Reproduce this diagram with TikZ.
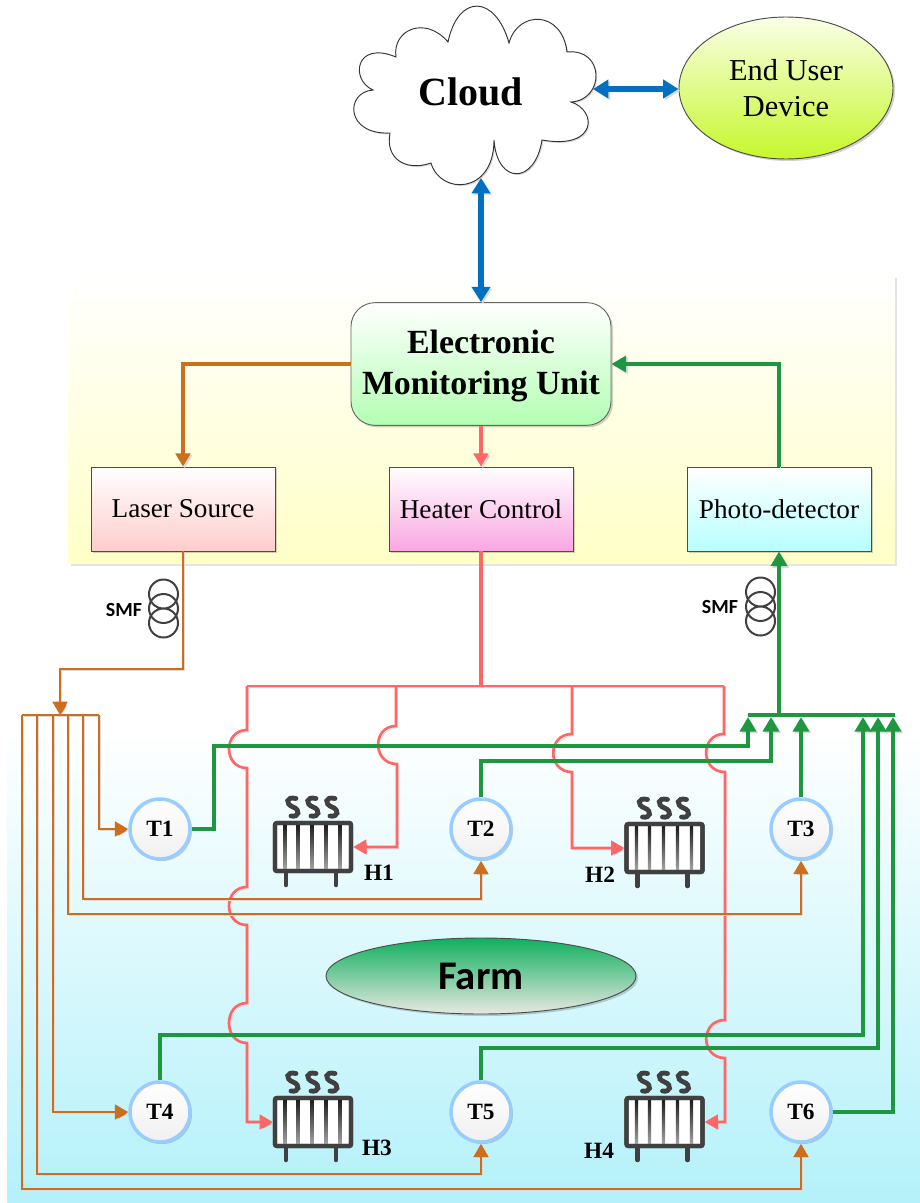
\documentclass[tikz,border=0pt]{standalone}
\usepackage{fontspec}
\setmainfont{Liberation Serif}
\newfontfamily\calibrifont{Carlito}
\usetikzlibrary{arrows.meta,shapes.geometric,shadows,calc}
\definecolor{orangeline}{HTML}{CC6E1E}
\definecolor{redline}{HTML}{FF6666}
\definecolor{greenline}{HTML}{1F9640}
\definecolor{blueline}{HTML}{0070C0}
\definecolor{darkgrey}{HTML}{404040}
\definecolor{ringblue}{HTML}{99CCFF}
\definecolor{farmbot}{HTML}{B4F1FA}
\definecolor{usertop}{HTML}{FAFFE6}
\definecolor{userbot}{HTML}{C6F72B}
\definecolor{farmtop}{HTML}{0FB05E}
\definecolor{farmlow}{HTML}{E8E8E2}
\definecolor{heatbot}{HTML}{F9A6E2}
\tikzset{
  lsh/.style={preaction={draw=black!14,transform canvas={shift={(1.3pt,-1.3pt)}}}},
  bsh/.style={drop shadow={shadow xshift=1.5pt,shadow yshift=-1.5pt,fill=black,opacity=.18}},
  orl/.style={line width=2pt,lsh,draw=orangeline},
  orth/.style={line width=3.2pt,lsh,draw=orangeline},
  redl/.style={line width=2pt,lsh,draw=redline},
  redth/.style={line width=2.8pt,lsh,draw=redline},
  grnl/.style={line width=3pt,lsh,draw=greenline},
  blul/.style={line width=3.8pt,lsh,draw=blueline},
  tipO/.style={-{Triangle[length=10pt,width=11pt,fill=orangeline]}},
  tipR/.style={-{Triangle[length=10pt,width=11pt,fill=redline]}},
  tipG/.style={-{Triangle[length=11pt,width=12pt,fill=greenline]}},
  tipB/.style={{Triangle[length=11.5pt,width=13.5pt]}-{Triangle[length=11.5pt,width=13.5pt]}},
  box/.style={draw=black!70,line width=.6pt,minimum width=138pt,minimum height=63pt,inner sep=0pt,font=\fontsize{20.4}{24}\selectfont,bsh},
  tnode/.style={circle,draw=ringblue,line width=2.6pt,minimum size=45pt,inner sep=0pt,top color=white,bottom color=black!6,font=\fontsize{17.5}{20}\selectfont\bfseries,bsh},
  hbox/.style={draw=darkgrey,line width=3.2pt,rounded corners=1.5pt,minimum width=57pt,minimum height=36pt,inner sep=0pt,fill=white,bsh},
  hlabel/.style={font=\fontsize{17.5}{20}\selectfont\bfseries,inner sep=0pt},
  smfl/.style={font=\calibrifont\fontsize{15}{17}\selectfont\bfseries,inner sep=0pt},
  coil/.style={draw=darkgrey,line width=1.5pt},
  steam/.style={draw=darkgrey,line width=3.6pt,line cap=round},
}
\newcommand{\heater}[3]{%
  \node[hbox] (#1) at (#2,#3) {};
  \begin{scope}[shift={(#2,#3)}]
    \foreach \bx in {-28,-15,-1,13,27}
      \shade[top color=black!90,bottom color=black!35] (\bx-1.7,-23) rectangle (\bx+1.7,23);
    \draw[darkgrey,line width=3.2pt,rounded corners=1.5pt] (-38,-24) rectangle (38,24);
    \draw[darkgrey,line width=3.4pt,line cap=round] (-27,26) -- (-27,38) (23,26) -- (23,38);
    \foreach \sx in {-20,0,19}
      \draw[steam] (\sx+3,-48.5) .. controls (\sx-7,-51) and (\sx-8,-43) .. (\sx,-40) .. controls (\sx+8,-37) and (\sx+6,-29.5) .. (\sx-2,-31);
  \end{scope}}
\newcommand{\coilset}[2]{%
  \draw[coil] (#1,#2) circle[radius=14.5] (#1,#2+14.5) circle[radius=14.5] (#1,#2+29) circle[radius=14.5];
}
\begin{document}
\begin{tikzpicture}[x=.75pt,y=-.75pt]
\useasboundingbox (0,0) rectangle (920,1203);
% backgrounds
\fill[black!10] (71,278) rectangle (897,566);
\node[minimum width=620pt,minimum height=216pt,inner sep=0pt,anchor=north west,top color=white,bottom color=yellow!22] (panel) at (68,275) {};
\node[minimum width=685pt,minimum height=355pt,inner sep=0pt,anchor=south west,top color=white,bottom color=farmbot] (farmbg) at (7,1203) {};
% coordinates
\coordinate (rbus) at (481,686);
\coordinate (r1) at (247,686);
\coordinate (r2) at (396,686);
\coordinate (r3) at (572,686);
\coordinate (r4) at (724,686);
\coordinate (gbusW) at (748,715);
\coordinate (gbusE) at (895,715);
\coordinate (gbusT) at (779,715);
\coordinate (g1) at (748,717);
\coordinate (g2) at (771,717);
\coordinate (g3) at (801,717);
\coordinate (g4) at (863,717);
\coordinate (g5) at (878,717);
\coordinate (g6) at (893,717);
\coordinate (obusW) at (22,715);
\coordinate (obusE) at (99,715);
\coordinate (oin) at (60,715);
\coordinate (o1) at (99,715);
\coordinate (o2) at (83,715);
\coordinate (o3) at (68,715);
\coordinate (o4) at (53,715);
\coordinate (o5) at (37,715);
\coordinate (o6) at (22,715);
% main nodes
\node[draw=black!60,line width=.7pt,rounded corners=18pt,minimum width=195pt,minimum height=92pt,inner sep=0pt,align=center,top color=white,bottom color=green!30,font=\fontsize{25.4}{31}\selectfont\bfseries,bsh] (emu) at (481,364) {\rule{0pt}{21pt}Electronic\\Monitoring Unit};
\node[box,top color=white,bottom color=red!20] (laser) at (183,509) {Laser Source};
\node[box,top color=white,bottom color=heatbot] (hc) at (481,509) {Heater Control};
\node[box,top color=white,bottom color=cyan!28] (pd) at (779,509) {Photo-detector};
% cloud
\draw[black!80,line width=.7pt,fill=white,drop shadow={shadow xshift=1pt,shadow yshift=-1pt,fill=black,opacity=.15}]
 (396,57) .. controls (392,30) and (425,15) .. (448,42)
 .. controls (458,-6) and (495,-6) .. (509,43)
 .. controls (518,10) and (562,10) .. (567,52)
 .. controls (605,48) and (605,100) .. (571,102)
 .. controls (597,110) and (598,150) .. (542,140)
 .. controls (535,185) and (497,185) .. (494,140)
 .. controls (494,195) and (440,195) .. (431,163)
 .. controls (405,172) and (385,158) .. (390,133)
 .. controls (345,135) and (345,92) .. (373,90)
 .. controls (350,80) and (355,40) .. (396,57) -- cycle;
\node[inner sep=0pt,font=\fontsize{30}{36}\selectfont\bfseries] (cloud) at (471,92) {Cloud};
\coordinate (cloudE) at (593,89);
\coordinate (cloudS) at (481,178);
\node[ellipse,draw=black!70,line width=.7pt,minimum width=160.5pt,minimum height=106.5pt,inner sep=0pt,align=center,top color=usertop,bottom color=userbot,font=\fontsize{22.8}{27.5}\selectfont,bsh] (user) at (786,88) {End User\\Device};
\node[ellipse,draw=black!70,line width=.7pt,minimum width=232.5pt,minimum height=57pt,inner sep=0pt,top color=farmtop,bottom color=farmlow,font=\calibrifont\fontsize{30.5}{34}\selectfont\bfseries,bsh] (farm) at (481,976) {Farm};
% temperature nodes
\node[tnode] (T1) at (160,829) {T1};
\node[tnode] (T2) at (481,829) {T2};
\node[tnode] (T3) at (801,829) {T3};
\node[tnode] (T4) at (160,1112) {T4};
\node[tnode] (T5) at (481,1112) {T5};
\node[tnode] (T6) at (801,1112) {T6};
% heaters
\heater{H1}{313}{847}
\heater{H2}{664.5}{848}
\heater{H3}{313}{1122}
\heater{H4}{664.5}{1122}
\node[hlabel] (H1l) at (379,873) {H1};
\node[hlabel] (H2l) at (600,875) {H2};
\node[hlabel] (H3l) at (377,1148) {H3};
\node[hlabel] (H4l) at (599,1151) {H4};
% SMF
\coilset{163.5}{594}
\coilset{760.5}{592}
\node[smfl] (smf1) at (124,610) {SMF};
\node[smfl] (smf2) at (720,607) {SMF};
% blue
\draw[blul,tipB] (cloudE) -- (cloudE -| user.west);
\draw[blul,tipB] (cloudS) -- (emu.north);
% top arrows
\draw[orth,tipO] (emu.west) -| (laser.north);
\draw[redth,tipR] (emu.south) -- (hc.north);
\draw[grnl,line width=3.2pt,tipG] (pd.north) |- (emu.east);
% red distribution
\draw[redl,line width=2.3pt] (hc.south) -- (rbus);
\draw[redl] (r1) -- (r4);
\draw[redl,tipR] (r1) -- (247,730) .. controls (223,730) and (223,768) .. (247,768)
 -- (247,887) .. controls (223,887) and (223,925) .. (247,925)
 -- (247,1003) .. controls (223,1003) and (223,1043) .. (247,1043)
 |- (H3.west);
\draw[redl,tipR] (r2) -- (396,726) .. controls (372,726) and (372,764) .. (397,764) |- (H1.east);
\draw[redl,tipR] (r3) -- (572,734) .. controls (547,734) and (547,772) .. (572,772) |- (H2.west);
\draw[redl,tipR] (r4) -- (724,734) .. controls (700,734) and (700,772) .. (725,772)
 -- (725,1020) .. controls (700,1020) and (700,1058) .. (725,1058) |- (H4.east);
% orange distribution
\draw[orl,tipO] (laser.south) |- (60,669) -- (oin);
\draw[orl] (obusW) -- (obusE);
\draw[orl,tipO] (o1) |- (T1.west);
\draw[orl,tipO] (o2) |- (481,899) -- (T2.south);
\draw[orl,tipO] (o3) |- (801,914) -- (T3.south);
\draw[orl,tipO] (o4) |- (T4.west);
\draw[orl,tipO] (o5) |- (481,1174) -- (T5.south);
\draw[orl,tipO] (o6) |- (801,1189) -- (T6.south);
% green distribution
\draw[grnl,tipG] (gbusT) -- (pd.south);
\draw[grnl,line width=2.4pt] (gbusW) -- (gbusE);
\draw[grnl,tipG] (T1.east) -- (214,829) |- (748,746) -- (g1);
\draw[grnl,tipG] (T2.north) |- (771,761) -- (g2);
\draw[grnl,tipG] (T3.north) -- (g3);
\draw[grnl,tipG] (T4.north) |- (863,1035) -- (g4);
\draw[grnl,tipG] (T5.north) |- (878,1048) -- (g5);
\draw[grnl,tipG] (T6.east) -| (g6);
\end{tikzpicture}
\end{document}
